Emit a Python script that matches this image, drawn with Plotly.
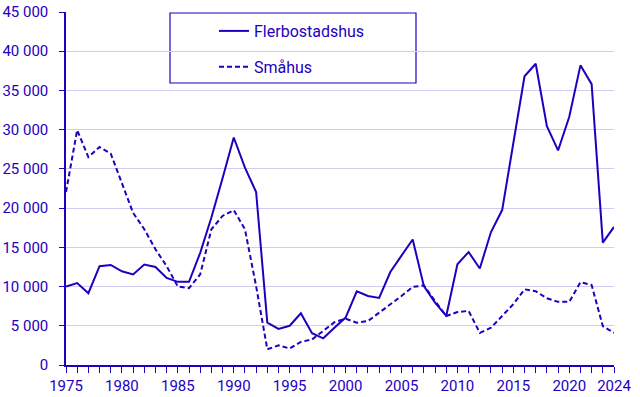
import plotly.graph_objects as go

years = list(range(1975, 2025))

flerbostadshus = [10000, 10450, 9150, 12600, 12750, 11950, 11550, 12800, 12500, 11100,
                  10600, 10600, 14300, 18800, 23800, 29000, 25150, 22050, 5400, 4600,
                  5000, 6600, 4050, 3400, 4750, 6050, 9400, 8800, 8550, 11850,
                  13950, 16000, 10050, 7950, 6250, 12850, 14400, 12300, 16950, 19750,
                  28300, 36800, 38400, 30450, 27350, 31650, 38200, 35800, 15600, 17600]

smahus = [22050, 29950, 26500, 27800, 26950, 23300, 19400, 17300, 14750, 12600,
          10000, 9800, 11550, 17300, 19000, 19750, 17300, 10050, 2000, 2500,
          2100, 2950, 3250, 4350, 5450, 5900, 5400, 5600, 6650, 7750,
          8800, 9950, 10150, 8150, 6250, 6750, 6900, 4100, 4750, 6250,
          7750, 9650, 9400, 8500, 8050, 8050, 10550, 10200, 4950, 4100]

x_tickvals = [1975, 1980, 1985, 1990, 1995, 2000, 2005, 2010, 2015, 2020, 2024]
x_ticktext = [str(v) for v in x_tickvals]
y_tickvals = list(range(0, 45001, 5000))

BLUE = "#1e00be"
GRID = "#cfcdf0"
FONT = "Roboto"

fig = go.Figure()
fig.add_trace(go.Scatter(x=years, y=flerbostadshus, mode="lines", name="Flerbostadshus",
                         legendgroup="a",
                         line=dict(color=BLUE, width=2, dash="solid")))
fig.add_trace(go.Scatter(x=years, y=smahus, mode="lines", name="Småhus",
                         legendgroup="b",
                         line=dict(color=BLUE, width=2, dash="5px,3px")))

fig.update_layout(
    width=640, height=397,
    margin=dict(l=66, r=26, t=12, b=32),
    paper_bgcolor="white", plot_bgcolor="white",
    font=dict(family=FONT, size=15, color=BLUE),
    separators=", ",
    showlegend=True,
    legend=dict(x=(214 - 66) / 548, y=(365 - 14) / 353, xanchor="left", yanchor="top",
                bgcolor="rgba(0,0,0,0)", borderwidth=0,
                traceorder="grouped", tracegroupgap=12,
                font=dict(family=FONT, size=16, color=BLUE)),
    shapes=[dict(type="rect", xref="paper", yref="paper",
                 x0=(170 - 66) / 548, x1=(416 - 66) / 548,
                 y0=(365 - 83) / 353, y1=(365 - 13) / 353,
                 line=dict(color=BLUE, width=1.2), fillcolor="white", layer="below")],
)

fig.update_xaxes(
    range=[1975, 2024], automargin=False,
    tickmode="array", tickvals=x_tickvals, ticktext=x_ticktext,
    ticks="outside", ticklen=6, tickcolor=BLUE, tickwidth=1,
    minor=dict(dtick=1, tick0=1975, ticks="outside", ticklen=6, tickcolor=BLUE, showgrid=False),
    showline=True, linecolor=BLUE, linewidth=1.5,
    showgrid=False, zeroline=False,
    tickfont=dict(family=FONT, size=15, color=BLUE),
)
fig.update_yaxes(
    range=[0, 45000], automargin=False,
    tickmode="array", tickvals=y_tickvals, tickformat=",d",
    ticks="outside", ticklen=5, tickcolor=BLUE, tickwidth=1,
    showline=True, linecolor=BLUE, linewidth=1.5,
    showgrid=True, gridcolor=GRID, gridwidth=1,
    zeroline=False,
    ticklabelstandoff=8,
    tickfont=dict(family=FONT, size=15, color=BLUE),
)

fig.write_html("out.html", config={"displayModeBar": False},
               post_script="document.body.style.margin='0';")
